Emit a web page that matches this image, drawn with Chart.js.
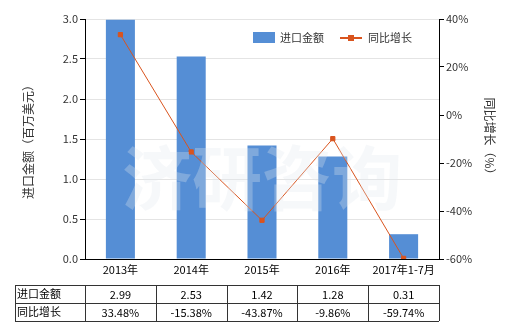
<!DOCTYPE html>
<html>
<head>
<meta charset="utf-8">
<script src="https://cdn.jsdelivr.net/npm/chart.js@4"></script>
<style>
  html, body { margin: 0; padding: 0; background: #fff; }
  #wrap { width: 520px; height: 330px; position: relative; }
</style>
</head>
<body>
<div id="wrap"><canvas id="chart" width="520" height="330"></canvas></div>
<script>
// Chart data.
const categories = ['2013年', '2014年', '2015年', '2016年', '2017年1-7月'];
const importValues = [2.99, 2.53, 1.42, 1.28, 0.31];
const growthValues = [33.48, -15.38, -43.87, -9.86, -59.74];
const importLabels = ['2.99', '2.53', '1.42', '1.28', '0.31'];
const growthLabels = ['33.48%', '-15.38%', '-43.87%', '-9.86%', '-59.74%'];
const leftTicks = [0, 0.5, 1, 1.5, 2, 2.5, 3];
const rightTicks = [-60, -40, -20, 0, 20, 40];

const barName = '进口金额';
const lineName = '同比增长';
const barColor = '#558ed5';
const lineColor = '#d9541e';
const fontFamily = '"Noto Sans CJK SC", "DejaVu Sans", sans-serif';
const textColor = '#333';

// Plugin that draws the legend, watermark and data table.
const extrasPlugin = {
    id: 'extras',
    afterDatasetsDraw(chart) {
        const ctx = chart.ctx;
        const area = chart.chartArea;
        ctx.save();
        ctx.fillStyle = 'rgba(225, 232, 238, 0.3)';
        ctx.font = 'bold 70px ' + fontFamily;
        ctx.textAlign = 'center';
        ctx.textBaseline = 'middle';
        ctx.fillText('济研咨询', (area.left + area.right) / 2, 178);
        ctx.restore();
    },
    afterDraw(chart) {
        const ctx = chart.ctx;
        const area = chart.chartArea;
        const x = chart.scales.x;
        ctx.save();

        // Legend.
        ctx.font = '11px ' + fontFamily;
        ctx.textBaseline = 'middle';
        ctx.textAlign = 'left';
        ctx.fillStyle = barColor;
        ctx.fillRect(253, 32, 22, 11);
        ctx.fillStyle = textColor;
        ctx.fillText(barName, 280, 38);
        ctx.strokeStyle = lineColor;
        ctx.lineWidth = 2;
        ctx.beginPath();
        ctx.moveTo(340, 38);
        ctx.lineTo(362, 38);
        ctx.stroke();
        ctx.fillStyle = lineColor;
        ctx.fillRect(348, 35, 6, 6);
        ctx.fillStyle = textColor;
        ctx.fillText(lineName, 368, 38);

        // Data table.
        const top = 285, rowH = 18, left = 15;
        ctx.strokeStyle = '#333';
        ctx.lineWidth = 1;
        ctx.beginPath();
        for (let r = 0; r <= 2; r++) {
            ctx.moveTo(left, top + r * rowH + 0.5);
            ctx.lineTo(area.right, top + r * rowH + 0.5);
        }
        ctx.moveTo(left + 0.5, top);
        ctx.lineTo(left + 0.5, top + 2 * rowH);
        for (let i = 0; i <= categories.length; i++) {
            const cx = Math.round(area.left + i * (area.right - area.left) / categories.length) + 0.5;
            ctx.moveTo(cx, top);
            ctx.lineTo(cx, top + 2 * rowH);
        }
        ctx.stroke();

        ctx.fillStyle = '#000';
        ctx.font = '11px ' + fontFamily;
        ctx.textAlign = 'left';
        ctx.fillText(barName, left + 2, top + rowH / 2);
        ctx.fillText(lineName, left + 2, top + rowH * 1.5);
        ctx.textAlign = 'center';
        categories.forEach((c, i) => {
            const cx = x.getPixelForValue(i);
            ctx.fillText(importLabels[i], cx, top + rowH / 2 + 1);
            ctx.fillText(growthLabels[i], cx, top + rowH * 1.5 + 1);
        });
        ctx.restore();
    }
};

new Chart(document.getElementById('chart'), {
    data: {
        labels: categories,
        datasets: [
            {
                type: 'line',
                label: lineName,
                data: growthValues,
                yAxisID: 'y1',
                borderColor: lineColor,
                backgroundColor: lineColor,
                borderWidth: 1,
                pointStyle: 'rect',
                pointRadius: 3,
                pointHoverRadius: 3,
                tension: 0,
                order: 0
            },
            {
                type: 'bar',
                label: barName,
                data: importValues,
                yAxisID: 'y',
                backgroundColor: barColor,
                categoryPercentage: 1,
                barPercentage: 0.41,
                order: 1
            }
        ]
    },
    options: {
        responsive: false,
        animation: false,
        layout: { padding: { top: 19, left: 0, right: 0, bottom: 0 } },
        plugins: {
            legend: { display: false },
            tooltip: { enabled: false }
        },
        scales: {
            x: {
                grid: { display: false, drawTicks: false },
                border: { color: '#000' },
                ticks: { color: '#000', font: { size: 11, family: fontFamily }, padding: 4, maxRotation: 0 },
                afterFit(scale) { scale.height = 71; }
            },
            y: {
                position: 'left',
                min: 0,
                max: 3,
                afterBuildTicks(scale) { scale.ticks = leftTicks.map(v => ({ value: v })); },
                ticks: {
                    color: textColor,
                    font: { size: 11, family: fontFamily },
                    padding: 2,
                    callback: v => v.toFixed(1)
                },
                grid: { color: '#e4e4e4', tickLength: 5, tickColor: '#000' },
                border: { color: '#000' },
                title: {
                    display: true,
                    text: '进口金额（百万美元）',
                    color: textColor,
                    font: { size: 12, family: fontFamily },
                    padding: { top: 21, bottom: 0 }
                },
                afterFit(scale) { scale.width = 85; }
            },
            y1: {
                position: 'right',
                min: -60,
                max: 40,
                afterBuildTicks(scale) { scale.ticks = rightTicks.map(v => ({ value: v })); },
                ticks: {
                    color: textColor,
                    font: { size: 11, family: fontFamily },
                    padding: 2,
                    callback: v => v + '%'
                },
                grid: { drawOnChartArea: false, tickLength: 5, tickColor: '#000' },
                border: { color: '#000' },
                title: {
                    display: true,
                    text: '同比增长（%）',
                    color: textColor,
                    font: { size: 12, family: fontFamily },
                    padding: { top: 23, bottom: 0 }
                },
                afterFit(scale) { scale.width = 81; }
            }
        }
    },
    plugins: [extrasPlugin]
});
</script>
</body>
</html>
